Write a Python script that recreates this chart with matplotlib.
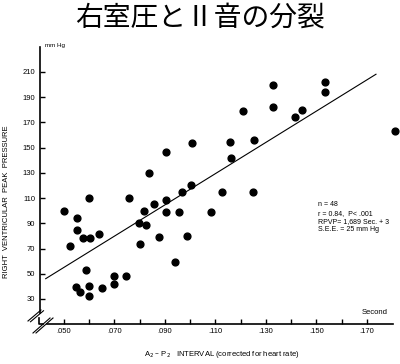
import matplotlib
matplotlib.use("Agg")
import matplotlib.pyplot as plt
from matplotlib.lines import Line2D

plt.rcParams['font.family'] = ['Liberation Sans', 'DejaVu Sans']

# A2-P2 interval (sec) and right ventricular peak pressure (mmHg), n = 48
interval = [0.0502, 0.0551, 0.0601, 0.0757, 0.0815, 0.0836, 0.0856, 0.0903,
            0.0905, 0.0905, 0.0954, 0.0966, 0.1002, 0.1005, 0.0522, 0.0551,
            0.0575, 0.0602, 0.0638, 0.0546, 0.0565, 0.0601, 0.0601, 0.0652,
            0.0586, 0.0699, 0.0698, 0.0744, 0.0799, 0.0823, 0.0802, 0.0876,
            0.0941, 0.0987, 0.1328, 0.1533, 0.1533, 0.1207, 0.1328, 0.1413,
            0.1443, 0.1156, 0.1253, 0.1811, 0.1160, 0.1126, 0.1249, 0.1084]
pressure = [100.0, 94.6, 110.3, 110.1, 100.0, 129.7, 105.6, 108.5,
            146.3, 98.7, 99.0, 114.8, 120.4, 153.7, 72.0, 84.7,
            78.6, 78.6, 81.3, 39.5, 35.3, 40.3, 32.6, 38.5,
            53.0, 48.0, 42.1, 48.0, 90.3, 88.4, 73.9, 79.4,
            59.1, 79.7, 199.9, 201.8, 194.1, 179.1, 182.2, 174.6,
            180.1, 154.7, 156.1, 163.5, 141.8, 114.6, 114.6, 99.2]

# regression line end points
fit_x = [0.04275, 0.17356]
fit_y = [46.1, 208.2]

yticks = list(range(30, 211, 20))
xticks = [0.05, 0.07, 0.09, 0.11, 0.13, 0.15, 0.17]
xminor = [0.06, 0.08, 0.10, 0.12, 0.14, 0.16]

stats_text = "n = 48\nr = 0.84,  P< .001\nRPVP= 1,689 Sec. + 3\nS.E.E. = 25 mm Hg"

W, H = 400, 364
fig = plt.figure(figsize=(W / 100, H / 100), dpi=100)


def fx(px):
    return px / W


def fy(py):
    return 1 - py / H


ax = fig.add_axes([fx(39.5), fy(323.5), fx(393) - fx(39.5), fy(47) - fy(323.5)])
ax.set_xlim(0.0403, 0.1803)
ax.set_ylim(10.57, 229.8)

ax.scatter(interval, pressure, s=24, color='black', zorder=3, clip_on=False)
ax.plot(fit_x, fit_y, color='black', lw=0.8)

ax.spines['top'].set_visible(False)
ax.spines['right'].set_visible(False)
for s in ('left', 'bottom'):
    ax.spines[s].set_linewidth(1.2)
ax.spines['left'].set_bounds(18.9, 229.8)
ax.spines['bottom'].set_bounds(0.0434, 0.1803)

ax.set_yticks(yticks)
ax.set_yticklabels([str(v) for v in yticks])
ax.set_xticks(xticks)
ax.set_xticklabels(['.%03d' % round(v * 1000) for v in xticks])
ax.set_xticks(xminor, minor=True)
ax.tick_params(axis='both', which='both', direction='in', length=3.5, width=1,
               labelsize=5.5, pad=3)

# corner piece and axis breaks
fig.add_artist(Line2D([fx(38.8), fx(38.8), fx(42.5)], [fy(318), fy(323.5), fy(323.5)],
                      color='black', lw=1.2))
for dx in (0, 2.5):
    fig.add_artist(Line2D([fx(28 + dx), fx(41 + dx)], [fy(321 + dx * 0.3), fy(310 + dx * 0.3)],
                          color='black', lw=0.8))
    fig.add_artist(Line2D([fx(33 + dx * 1.2), fx(50 + dx * 1.2)], [fy(333), fy(318)],
                          color='black', lw=0.8))

fig.text(0.5, fy(18), "右室圧とⅡ音の分裂", ha='center', va='center', fontsize=20,
         family=['Noto Sans CJK JP', 'DejaVu Sans'])
fig.text(fx(45), fy(45), "mm Hg", fontsize=4.5, va='center', ha='left')
fig.text(fx(7), fy(202), "RIGHT  VENTRICULAR  PEAK  PRESSURE", rotation=90,
         ha='center', va='center', fontsize=5.5)
fig.text(fx(222), fy(355), "A$_2$ – P$_2$   INTERVAL (corrected for heart rate)",
         ha='center', va='center', fontsize=5.5)
fig.text(fx(388), fy(313), "Second", ha='right', va='center', fontsize=5.5)
fig.text(fx(318), fy(201.5), stats_text, ha='left', va='top', fontsize=5,
         linespacing=1.25)

fig.savefig("out.png", dpi=100)
